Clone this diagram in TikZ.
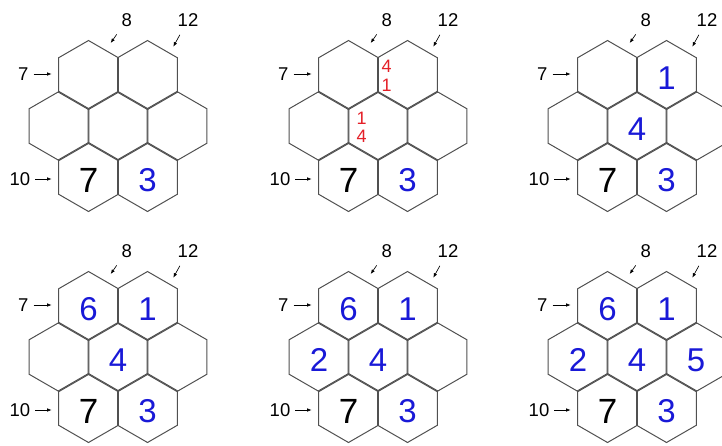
\documentclass[tikz,border=0pt]{standalone}
\usepackage{fontspec}
\setmainfont{Liberation Sans}
\usetikzlibrary{shapes.geometric,arrows.meta}

\definecolor{hexline}{RGB}{80,80,80}
\definecolor{fillblue}{RGB}{25,25,215}
\definecolor{candred}{RGB}{228,32,40}

\tikzset{
  hexcell/.style={regular polygon, regular polygon sides=6, shape border rotate=30,
    draw=hexline, line width=1pt, minimum size=69pt, inner sep=0pt},
  given/.style={font=\fontsize{35}{35}\selectfont, text=black, yshift=-3pt},
  placed/.style={font=\fontsize{33}{33}\selectfont, text=fillblue, yshift=-3pt},
  candidate/.style={font=\fontsize{18}{18}\selectfont, text=candred, inner sep=0pt},
  cluelabel/.style={font=\fontsize{18.5}{18.5}\selectfont, inner sep=1.5pt},
  cluearrow/.style={-{Latex[length=4.5pt,width=3.5pt]}, line width=0.65pt, shorten <=3.5pt},
}

% empty board with its clue arrows; #1 name prefix, #2 centre of the middle cell
\newcommand{\hexboard}[2]{%
  \begin{scope}[shift={#2}]
    \node[hexcell] (#1tl) at (-29.5,-51) {};
    \node[hexcell] (#1tr) at (29.5,-51) {};
    \node[hexcell] (#1ml) at (-59,0) {};
    \node[hexcell] (#1mm) at (0,0) {};
    \node[hexcell] (#1mr) at (59,0) {};
    \node[hexcell] (#1bl) at (-29.5,51) {};
    \node[hexcell] (#1br) at (29.5,51) {};
    \node[cluelabel] (#1k8) at (8.7,-106) {8};
    \node[cluelabel] (#1k12) at (70,-106) {12};
    \node[cluelabel] (#1k7) at (-94.7,-52) {7};
    \node[cluelabel] (#1k10) at (-98,53) {10};
    \coordinate (#1t8) at (-7.3,-83);
    \coordinate (#1t12) at (55.3,-79.3);
    \coordinate (#1t7) at (-66.3,-52);
    \coordinate (#1t10) at (-66.3,53);
    \draw[cluearrow, shorten <=7.5pt] (#1k8) -- (#1t8);
    \draw[cluearrow, shorten <=7.5pt] (#1k12) -- (#1t12);
    \draw[cluearrow] (#1k7) -- (#1t7);
    \draw[cluearrow] (#1k10) -- (#1t10);
  \end{scope}}

\begin{document}
\begin{tikzpicture}[x=1pt, y=-1pt]
  \useasboundingbox (0,0) rectangle (722,445);
  \clip (0,0) rectangle (722,445);

  \hexboard{p1}{(118,126)}
  \hexboard{p2}{(378,126)}
  \hexboard{p3}{(637,126)}
  \hexboard{p4}{(118,357)}
  \hexboard{p5}{(378,357)}
  \hexboard{p6}{(637,357)}

  % first board
  \node[given] (p1n7) at (p1bl) {7};
  \node[placed] (p1n3) at (p1br) {3};

  % second board, two candidates
  \node[given] (p2n7) at (p2bl) {7};
  \node[placed] (p2n3) at (p2br) {3};
  \node[candidate] (p2c4a) at (386.7,66.7) {4};
  \node[candidate] (p2c1a) at (386.7,85) {1};
  \node[candidate] (p2c1b) at (361.7,118.3) {1};
  \node[candidate] (p2c4b) at (361.7,136.7) {4};

  % third board
  \node[placed] (p3n1) at (p3tr) {1};
  \node[placed] (p3n4) at (p3mm) {4};
  \node[given] (p3n7) at (p3bl) {7};
  \node[placed] (p3n3) at (p3br) {3};

  % fourth board
  \node[placed] (p4n6) at (p4tl) {6};
  \node[placed] (p4n1) at (p4tr) {1};
  \node[placed] (p4n4) at (p4mm) {4};
  \node[given] (p4n7) at (p4bl) {7};
  \node[placed] (p4n3) at (p4br) {3};

  % fifth board
  \node[placed] (p5n6) at (p5tl) {6};
  \node[placed] (p5n1) at (p5tr) {1};
  \node[placed] (p5n2) at (p5ml) {2};
  \node[placed] (p5n4) at (p5mm) {4};
  \node[given] (p5n7) at (p5bl) {7};
  \node[placed] (p5n3) at (p5br) {3};

  % sixth board
  \node[placed] (p6n6) at (p6tl) {6};
  \node[placed] (p6n1) at (p6tr) {1};
  \node[placed] (p6n2) at (p6ml) {2};
  \node[placed] (p6n4) at (p6mm) {4};
  \node[placed] (p6n5) at (p6mr) {5};
  \node[given] (p6n7) at (p6bl) {7};
  \node[placed] (p6n3) at (p6br) {3};
\end{tikzpicture}
\end{document}
